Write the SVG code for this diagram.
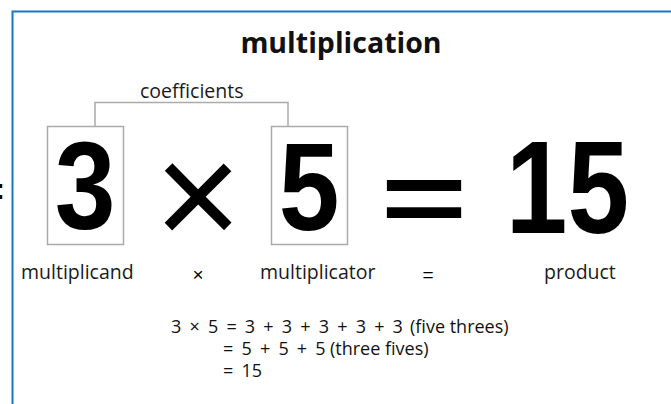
<svg xmlns="http://www.w3.org/2000/svg" width="671" height="404" viewBox="0 0 671 404">
<style>
.frame{fill:none;stroke:#1a74c6;stroke-width:2}
.box{fill:none;stroke:#aaaaaa;stroke-width:1.5}
.big{font-family:"Liberation Sans",Arial,sans-serif;font-weight:bold;fill:#000;text-anchor:middle}
.op{font-family:"Liberation Sans",Arial,sans-serif;fill:#000;text-anchor:middle}
.lbl{font-family:"Open Sans","Noto Sans",sans-serif;font-size:19.5px;fill:#1a1a1a}
.eq{font-family:"Open Sans","Noto Sans",sans-serif;font-size:18px;fill:#111}
.math{word-spacing:3.5px}
.title{font-family:"Open Sans","Noto Sans",sans-serif;font-weight:bold;font-size:28.5px;fill:#111;text-anchor:middle}
</style>
<rect width="671" height="404" fill="#fff"/>
<path class="frame" d="M12.5,404 V11.5 H671"/>
<text x="0" y="199" font-family="Liberation Sans,sans-serif" font-weight="bold" font-size="30" fill="#000" text-anchor="middle">:</text>
<text class="title" x="341" y="53">multiplication</text>
<g id="connectors">
<path d="M95,126 V102.5 H288 V126" fill="none" stroke="#aaaaaa" stroke-width="1.5"/>
<text class="lbl" x="140" y="98">coefficients</text>
</g>
<g id="multiplicand">
<rect class="box" x="47.5" y="126.5" width="76" height="118"/>
<text class="big" font-size="124" transform="translate(85,229) scale(0.88,1)">3</text>
<text class="lbl" x="21" y="279">multiplicand</text>
</g>
<g id="times">
<text class="op" font-size="150" transform="translate(198,247)">×</text>
<text class="op" font-size="19" x="198" y="281">×</text>
</g>
<g id="multiplicator">
<rect class="box" x="271.5" y="126.5" width="76" height="118"/>
<text class="big" font-size="124" transform="translate(309,230) scale(0.88,1)">5</text>
<text class="lbl" x="260" y="279">multiplicator</text>
</g>
<g id="equals">
<text class="big" font-size="148" transform="translate(424,232) scale(1,0.68)">=</text>
<text class="op" font-size="19" x="428" y="281">=</text>
</g>
<g id="product">
<text class="big" font-size="132" transform="translate(567.5,233) scale(0.84,1)">15</text>
<text class="lbl" x="544" y="279">product</text>
</g>
<g id="equations">
<text class="eq math" x="171" y="333">3 × 5 = 3 + 3 + 3 + 3 + 3</text>
<text class="eq" x="410" y="333">(five threes)</text>
<text class="eq math" x="223" y="355">= 5 + 5 + 5</text>
<text class="eq" x="330" y="355">(three fives)</text>
<text class="eq math" x="223" y="377">= 15</text>
</g>
</svg>
